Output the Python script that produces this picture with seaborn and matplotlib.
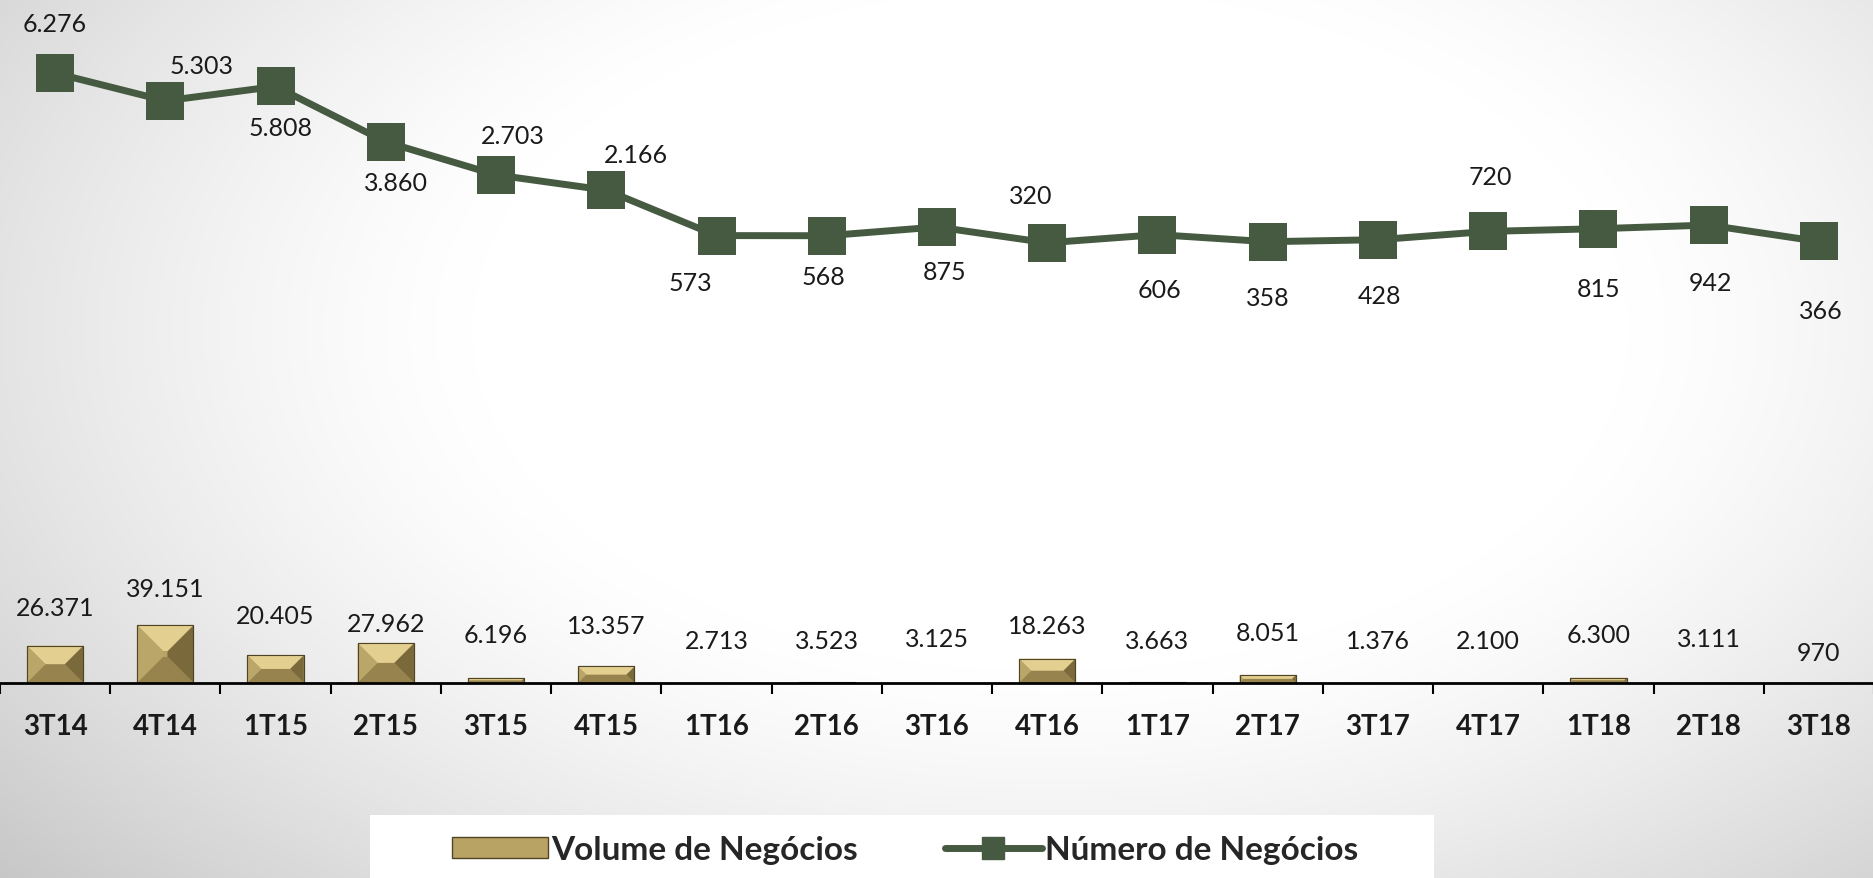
import numpy as np
import matplotlib
matplotlib.use('Agg')
from matplotlib import pyplot as plt
from matplotlib.patches import Polygon, Rectangle, Patch
from matplotlib.lines import Line2D
import seaborn as sns

# data
quarters = ['3T14', '4T14', '1T15', '2T15', '3T15', '4T15', '1T16', '2T16', '3T16',
            '4T16', '1T17', '2T17', '3T17', '4T17', '1T18', '2T18', '3T18']
volume = [26371, 39151, 20405, 27962, 6196, 13357, 2713, 3523, 3125,
          18263, 3663, 8051, 1376, 2100, 6300, 3111, 970]
numero = [6276, 5303, 5808, 3860, 2703, 2166, 573, 568, 875,
          320, 606, 358, 428, 720, 815, 942, 366]

# label placement (pixels)
bar_label_dy = [38, 37, 40, 20, 43, 41, 42, 42, 44, 33, 42, 42, 42, 42, 43, 44, 30]
line_label_dx = [0, 36, 5, 10, 17, 30, -26, -3, 8, -17, 2, 0, 2, 2, 0, 2, 2]
line_label_dy = [50, 35, -41, -41, 39, 36, -47, -41, -45, 47, -55, -56, -56, 55, -60, -57, -69]

GOLD = '#b8a264'
GREEN = '#455a40'

sns.set_theme(style='white')
plt.rcParams['font.family'] = ['Lato', 'DejaVu Sans']

fig = plt.figure(figsize=(18.74, 8.79), dpi=100)

# radial grey background
bg = fig.add_axes([0, 0, 1, 1], zorder=-10)
yy, xx = np.mgrid[0:879, 0:1874]
d = np.sqrt(((xx - 1050) / 1050.0) ** 2 + ((yy - 330) / 620.0) ** 2)
shade = 1.0 - 0.30 * np.clip(d - 0.55, 0, None) ** 1.3
bg.imshow(np.dstack([shade] * 3), aspect='auto', extent=[0, 1, 0, 1], origin='upper')
bg.axis('off')

ax_bottom = 1 - 683.6 / 879
ax = fig.add_axes([0, ax_bottom, 1, 1 - ax_bottom])
ax.set_facecolor('none')

sns.barplot(x=quarters, y=volume, ax=ax, color=GOLD, width=0.51,
            edgecolor='#5c4f2a', linewidth=0.8, saturation=1)
vmin = 3300
ax.set_ylim(vmin, 430300)
ax.set_xlim(-0.5, len(quarters) - 0.5)

# pyramid bevel on each bar
fig.canvas.draw()
to_px = ax.transData
to_data = ax.transData.inverted()
face_cols = {'top': '#e3cf8f', 'left': '#bba66a', 'right': '#7a693b', 'bottom': '#97834d'}
for p in ax.patches:
    x0, w, h = p.get_x(), p.get_width(), p.get_height()
    if h <= vmin + 1000:
        continue
    (px0, py0), (px1, py1) = to_px.transform([(x0, vmin), (x0 + w, h)])
    inset = min((px1 - px0) / 2, (py1 - py0) / 2, 26)
    outer = [(px0, py0), (px1, py0), (px1, py1), (px0, py1)]
    inner = [(px0 + inset, py0 + inset), (px1 - inset, py0 + inset),
             (px1 - inset, py1 - inset), (px0 + inset, py1 - inset)]
    faces = {'bottom': [outer[0], outer[1], inner[1], inner[0]],
             'right': [outer[1], outer[2], inner[2], inner[1]],
             'top': [outer[2], outer[3], inner[3], inner[2]],
             'left': [outer[3], outer[0], inner[0], inner[3]]}
    for k, pts in faces.items():
        ax.add_patch(Polygon(to_data.transform(pts), closed=True, facecolor=face_cols[k],
                             edgecolor='none', zorder=2.5))
    ax.add_patch(Polygon(to_data.transform(inner), closed=True, facecolor=GOLD,
                         edgecolor='none', zorder=2.5))
    ax.add_patch(Polygon(to_data.transform(outer), closed=True, facecolor='none',
                         edgecolor='#4f4424', linewidth=0.8, zorder=2.6))

for i, v in enumerate(volume):
    ax.annotate(f'{v:,}'.replace(',', '.'), xy=(i, max(v, vmin)), xytext=(0, bar_label_dy[i]),
                textcoords='offset pixels', ha='center', va='center', fontsize=18, color='#1a1a1a')

# x axis styling
for s in ['top', 'left', 'right']:
    ax.spines[s].set_visible(False)
ax.spines['bottom'].set_color('black')
ax.spines['bottom'].set_linewidth(2)
ax.spines['bottom'].set_zorder(5)
ax.set_yticks([])
ax.set_xlabel('')
ax.set_ylabel('')
ax.tick_params(axis='x', which='major', length=0, pad=22, labelsize=20)
for t in ax.get_xticklabels():
    t.set_fontweight('bold')
    t.set_color('#1a1a1a')
ax.set_xticks(np.arange(len(quarters) + 1) - 0.5, minor=True)
ax.tick_params(axis='x', which='minor', length=8, width=1.5, color='black', direction='out', bottom=True)

# line on secondary axis
ax2 = ax.twinx()
sns.lineplot(x=list(range(len(quarters))), y=numero, ax=ax2, color=GREEN, linewidth=5,
             marker='s', markersize=27, markeredgewidth=0, sort=False, zorder=4)
ax2.set_ylim(-15117, 8877)
ax2.set_xlim(-0.5, len(quarters) - 0.5)
ax2.set_yticks([])
ax2.set_ylabel('')
for s in ax2.spines.values():
    s.set_visible(False)
for i, v in enumerate(numero):
    ax2.annotate(f'{v:,}'.replace(',', '.'), xy=(i, v), xytext=(line_label_dx[i], line_label_dy[i]),
                 textcoords='offset pixels', ha='center', va='center', fontsize=18, color='#1a1a1a')

# legend on a white band
fig.patches.append(Rectangle((370 / 1874, 0), (1434 - 370) / 1874, 63 / 879,
                             transform=fig.transFigure, facecolor='white', edgecolor='none', zorder=1))
handles = [Patch(facecolor=GOLD, edgecolor='#4f4424', linewidth=1.0),
           Line2D([], [], color=GREEN, linewidth=5, marker='s', markersize=16)]
fig.legend(handles, ['Volume de Negócios', 'Número de Negócios'], loc='center',
           bbox_to_anchor=(905 / 1874, 1 - 851 / 879), ncol=2, frameon=False,
           prop={'size': 24, 'weight': 'bold'}, handlelength=2.9, handleheight=0.6,
           handletextpad=0.1, columnspacing=2.6)

fig.savefig('out.png', dpi=100)
